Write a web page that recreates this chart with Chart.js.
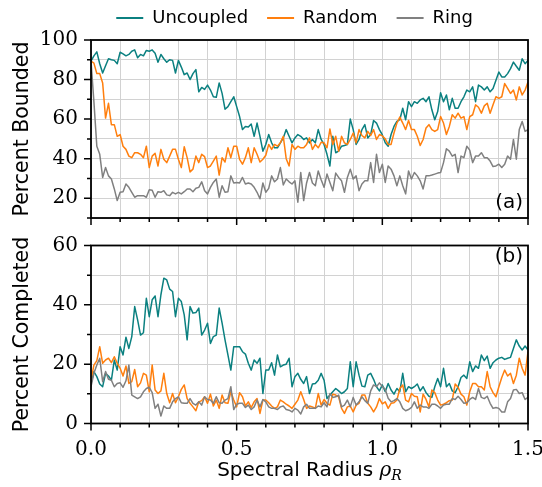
<!DOCTYPE html>
<html><head><meta charset="utf-8">
<script src="https://cdn.jsdelivr.net/npm/chart.js@4.4.1/dist/chart.umd.min.js"></script>
<style>
html,body{margin:0;padding:0;background:#fff;}
#wrap{position:relative;width:542px;height:487px;overflow:hidden;}
#c1{position:absolute;left:0;top:0;}
#c2{position:absolute;left:0;top:232px;}
</style></head><body>
<div id="wrap"><canvas id="c1" width="542" height="232"></canvas><canvas id="c2" width="542" height="255"></canvas></div>
<script>
// Spectral radius samples (x categories)
const rho = [0,0.01,0.02,0.03,0.04,0.05,0.06,0.07,0.08,0.09,
0.1,0.11,0.12,0.13,0.14,0.15,0.16,0.17,0.18,0.19,
0.2,0.21,0.22,0.23,0.24,0.25,0.26,0.27,0.28,0.29,
0.3,0.31,0.32,0.33,0.34,0.35,0.36,0.37,0.38,0.39,
0.4,0.41,0.42,0.43,0.44,0.45,0.46,0.47,0.48,0.49,
0.5,0.51,0.52,0.53,0.54,0.55,0.56,0.57,0.58,0.59,
0.6,0.61,0.62,0.63,0.64,0.65,0.66,0.67,0.68,0.69,
0.7,0.71,0.72,0.73,0.74,0.75,0.76,0.77,0.78,0.79,
0.8,0.81,0.82,0.83,0.84,0.85,0.86,0.87,0.88,0.89,
0.9,0.91,0.92,0.93,0.94,0.95,0.96,0.97,0.98,0.99,
1,1.01,1.02,1.03,1.04,1.05,1.06,1.07,1.08,1.09,
1.1,1.11,1.12,1.13,1.14,1.15,1.16,1.17,1.18,1.19,
1.2,1.21,1.22,1.23,1.24,1.25,1.26,1.27,1.28,1.29,
1.3,1.31,1.32,1.33,1.34,1.35,1.36,1.37,1.38,1.39,
1.4,1.41,1.42,1.43,1.44,1.45,1.46,1.47,1.48,1.49,
1.5];

const seriesNames = ['Uncoupled', 'Random', 'Ring'];

// (a) Percent Bounded
const boundedUncoupled = [89.3,92,94,88,83.3,87,90.5,90,89.7,88,
93.8,93,92,92.7,94.3,95,91,92.7,92,94.7,
94.3,95,93.3,88.8,92.7,90.5,88.8,90,89.7,83.3,
89.7,86.3,82.5,83.3,80,83,85,73.8,76,75,
77.2,74.7,71.3,71,78.3,73,65,66.3,68.8,71.3,
66.3,61.3,54.7,56.3,56,57.5,51.3,58,51.3,43.8,
47.2,52.2,48,45.5,45.5,48,50.5,54.7,51.3,48,
50.5,52.2,51.3,49.7,50.5,48,49.7,48,54.7,49.7,
47.2,42.2,36.3,51.3,43,43.8,46.3,46.7,47.2,60,
54.7,47.2,49.7,54.7,57.2,50.5,52.2,59.3,58,54.7,
52,48,46.3,52.2,56.3,58.8,59.7,65.5,59.7,68.8,
66.3,68.8,68,69.7,70.5,68.8,71.3,64.7,59.7,63.8,
73.3,68.8,72.2,64.7,70.5,65.5,65.5,68.8,71.3,74.7,
73.8,76.3,68.8,77.2,76.3,74.7,76.3,73.8,75.5,79.7,
83.8,81.3,81.3,83,85.5,88.8,86.7,84.7,90.5,88,
89.7];

const boundedRandom = [89.3,88.3,83,83,78.3,60.5,68,57.2,57.2,51.3,
52.2,46.3,44.7,41.3,40.5,43,43,42.2,40.5,46.3,
35.5,41.3,42.7,36.3,44.7,39.7,38,41.3,44.7,44.7,
39.7,35.5,46,40.5,33.3,34.7,41.3,38,42.2,41,
35.5,36.3,38.8,41.3,31.7,40.5,38.3,45.5,40.5,46.3,
46.3,39.7,37.2,40.5,45.5,38,45.5,42.2,38.3,39.7,
41.7,47.2,44.7,47.2,46.3,48,51.3,40,36.3,47.2,
44.7,46.3,45.5,45.5,47.2,50.5,44.7,47.2,45.5,48.3,
48,45.5,55,47.2,51.3,43.8,51.3,48,47.2,49.7,
53,48,54.7,51.7,50.5,53.8,51.7,54.7,49.7,52.2,
51.5,50,47.2,47.2,53,58,61,58,54.7,59.3,
54.7,54.7,51.3,46.7,49.7,55.5,57.2,54.7,53.8,54.7,
61.3,58,52.2,56.3,62.2,60.5,63,60.5,61.3,54.7,
61.3,62.2,67.2,66,63,66.7,68,63,67.2,71.3,
70.5,71.3,78,75.5,73,74.7,69.7,76.3,72.2,74.7,
78.8];

const boundedRing = [89.3,68.8,46.3,42.2,30.5,35.5,31.3,29.7,24.7,18.8,
23,23.3,27.2,25.5,23,20.5,21.3,21.3,21.3,20.5,
24.3,24,20.5,23.3,23,23.8,21.7,21.3,23,22.2,
23,22.2,23.3,24.7,24.7,23.3,25,25.5,28.3,23.8,
22.2,25.5,28,29.7,20.5,26.3,23,23.3,31.3,27.7,
28,27.7,30.5,27.2,27.7,27.2,25.5,23,19.7,27.7,
23,25,31.3,28.3,29.7,35.5,26.7,29.7,28.3,27.2,
28.8,18,33,18.8,27.7,33,27.7,26.3,33.8,29.3,
25.5,32.2,28,23.8,32.7,30.5,28.8,23,30.5,34.7,
29.7,31.3,23.8,27.2,28.8,28.8,38,28,42.2,33,
37.2,28,36.3,34.7,31.3,26.3,31.3,26.3,22.2,33.8,
29.7,33,31.3,28.8,24.7,31.3,31.3,31.7,32.2,32.7,
33,38,45,43.8,41.3,42.2,33,41.3,40.5,46.3,
44.3,38,41.3,41.3,43,40.5,40.5,38.8,36,36.3,
37.2,35.5,37.2,41.3,39.7,49.7,39.7,54.7,58.8,53.8,
54.7];

// (b) Percent Completed
const completedUncoupled = [13.5,17.5,15.8,13.3,12.4,16.9,16,14.6,21.4,18,
25.9,23.1,29.1,25.3,29.3,39.4,34.9,29.8,30.6,42.2,
36,41.7,43,36,43.4,49,48.4,45.3,44.5,36,
42.2,41.1,36.6,28.2,39.4,37.2,37.4,38.9,29.8,31.5,
33.8,27,29.3,29.8,38.9,33.8,28.2,23.1,18,25.9,
25.9,25.9,24.2,23.4,20.3,18,21.4,20.3,22,10.1,
18,18,20.5,16.3,23.1,19.1,19.7,20,22,12.4,
15.8,16.9,14.9,13.5,15.8,10.1,13.3,13.5,14.6,16.9,
14.6,8.4,9.6,10.7,11.8,11,10.1,10.7,11.8,20.8,
12.4,20.8,16.3,12.6,12.4,16.3,16.9,14.9,12.4,11,
13,10.7,13.5,11.3,9.9,11.8,10.7,16.9,10.7,12.4,
11.8,12.4,13.3,11,12.4,10.4,9.2,8.8,12.4,15.2,
12.4,18.6,12.4,13.5,11,10.4,12.4,15.5,16.3,15.2,
20.8,17.5,19.4,18.6,23.1,21.2,22.7,18.6,20.5,21.4,
22,22.3,21.6,22,22.3,25.3,28.2,26.1,24.8,26.1,
24.8];

const completedRandom = [14.6,19.7,21.2,25.9,20.3,21.4,22,20.5,22.5,20.3,
18.6,16,19.4,13.5,14.1,18.2,12.4,13.7,16.9,16.3,
10.7,19.7,11.3,10.1,11,16.9,10.1,7,10.1,7,
9,11.5,13,8.4,6.8,5.6,4.3,7.3,7.7,9,
6.8,9.9,5.9,7.9,5.1,9.6,7,6.8,10.7,7.9,
5.6,10.4,9,5.9,7.3,5.4,7.3,8.4,3.4,7.9,
7.9,7,5.9,5.1,5.6,7.9,7.3,6.5,5.9,5.1,
6.5,7.9,10.7,8.1,5.1,5.9,5.6,5.1,10.1,6.2,
8.1,6.8,6.2,9.9,9.6,9,5.1,3.4,5.6,5.9,
3.9,6.2,6.8,9.6,9.6,6.8,5.6,3.9,5.6,8.4,
6.6,7.3,5.1,6.8,7,7.9,11.8,13,7.9,7.3,
10.1,9.2,9,3.9,9.9,8.1,5.6,11.3,10.4,7.9,
6.2,6.5,7,7.7,7.9,13.3,12.2,9.9,9,6.2,
10.7,13.5,13.5,12.4,12.4,11.3,17.5,12.4,10.4,9,
12.4,15.5,18,16,16.9,13.5,16.3,22,18.6,16.3,
24.2];

const completedRing = [12.4,16.9,19.7,22,14.1,17.5,14.9,14.6,12.4,13.5,
13.7,12.2,14.4,19.7,9.6,9,8.4,9,10.7,11.8,
12.2,10.4,5.1,6.5,2.5,5.9,5.1,5.1,7.3,8.4,
9,7,6.8,6.8,8.4,6.8,6.2,7.3,6.2,9,
8.1,7.9,6.8,9,7,6.8,7.9,8.4,12.4,4.7,
6.5,6.8,6.8,5.4,6.2,4.7,5.6,7.9,5.6,8.1,
7.3,5.6,5.1,5.1,4.7,5.6,5.9,4.7,4.5,3.9,
5.1,4.5,3.2,5.6,6.5,5.1,5.1,5.1,5.9,5.6,
7,5.6,10.1,8.8,9,9.6,5.6,6.2,7.9,5.6,
8.8,6.2,7.3,9,7.7,6.8,11,13,12.4,13.7,
12.5,11.5,8.5,7.3,7.7,8.4,7.3,5.1,4.3,4.7,
5.4,7.3,5.1,6.2,5.6,5.6,5.1,6.5,6.5,5.9,
5.1,6.2,6.5,6.5,8.4,8.1,9.2,8.1,6.8,7,
8.1,8.8,8.1,11.8,8.8,8.4,9.2,6.8,5.1,5.4,
5.1,3.9,3.9,7.3,8.4,11.3,11.5,10.1,10.4,8.1,
8.8];

const xTickLabels = ['0.0', '0.5', '1.0', '1.5'];
const boundedTickLabels = [20, 40, 60, 80, 100];
const completedTickLabels = [0, 20, 40, 60];

// ---------- styling ----------
const COLORS = ['#0b8080', '#ff7f0e', '#808080'];
const ORDERS = [2, 1, 0];
const SANS = "'DejaVu Sans', sans-serif";
const SERIF = "'DejaVu Serif', serif";
const GRID = '#d2d2d2';

function makeDatasets(arrs) {
  return arrs.map((arr, k) => ({
    label: seriesNames[k],
    data: rho.map((x, i) => ({x: x, y: arr[i]})),
    borderColor: COLORS[k],
    backgroundColor: COLORS[k],
    borderWidth: 1.5,
    borderJoinStyle: 'round',
    pointRadius: 0,
    pointHoverRadius: 0,
    tension: 0,
    fill: false,
    order: ORDERS[k]
  }));
}

const isMajorX = v => Math.round(v * 10) % 5 === 0;

const framePlugin = {
  id: 'frame',
  afterDraw(chart, args, opts) {
    const {ctx, chartArea: a, scales} = chart;
    ctx.save();
    ctx.strokeStyle = '#000';
    ctx.lineWidth = 1.5;
    ctx.beginPath();
    scales.x.ticks.forEach(t => {
      const p = scales.x.getPixelForValue(t.value);
      const L = isMajorX(t.value) ? 7 : 4;
      ctx.moveTo(p, a.bottom); ctx.lineTo(p, a.bottom + L);
    });
    scales.y.ticks.forEach(t => {
      const p = scales.y.getPixelForValue(t.value);
      const L = opts.yMajor.includes(Math.round(t.value)) ? 7 : 4;
      ctx.moveTo(a.left, p); ctx.lineTo(a.left - L, p);
    });
    ctx.stroke();
    ctx.lineWidth = 1.8;
    ctx.strokeRect(a.left, a.top, a.right - a.left, a.bottom - a.top);
    ctx.restore();
  }
};

const panelLabelPlugin = {
  id: 'panelLabel',
  afterDraw(chart, args, opts) {
    const {ctx, chartArea: a} = chart;
    ctx.save();
    ctx.font = '20px ' + SANS;
    ctx.fillStyle = '#000';
    ctx.textAlign = 'right';
    ctx.textBaseline = 'middle';
    const y = opts.corner === 'bottom' ? a.bottom - 15 : a.top + 11;
    ctx.fillText(opts.text, a.right - 5, y);
    ctx.restore();
  }
};

const xTitlePlugin = {
  id: 'xTitle',
  afterDraw(chart, args, opts) {
    const {ctx, chartArea: a} = chart;
    ctx.save();
    ctx.fillStyle = '#000';
    ctx.textBaseline = 'alphabetic';
    ctx.textAlign = 'left';
    const f1 = '20px ' + SANS, f2 = 'italic 20px ' + SERIF, f3 = 'italic 14px ' + SERIF;
    ctx.font = f1; const w1 = ctx.measureText(opts.text).width;
    ctx.font = f2; const w2 = ctx.measureText(opts.symbol).width;
    ctx.font = f3; const w3 = ctx.measureText(opts.sub).width;
    let x = (a.left + a.right) / 2 - (w1 + w2 + w3) / 2;
    const y = opts.y;
    ctx.font = f1; ctx.fillText(opts.text, x, y); x += w1;
    ctx.font = f2; ctx.fillText(opts.symbol, x, y); x += w2;
    ctx.font = f3; ctx.fillText(opts.sub, x, y + 4);
    ctx.restore();
  }
};

const legendShiftPlugin = {
  id: 'legendShift',
  afterLayout(chart, args, opts) {
    const L = chart.legend;
    if (!L) return;
    L.left += opts.dx; L.right += opts.dx;
    L.top += opts.dy; L.bottom += opts.dy;
  }
};

function xScale(showLabels, height, tickLen) {
  return {
    type: 'linear', min: 0, max: 1.5,
    border: {display: false},
    grid: {color: GRID, lineWidth: 1, drawTicks: showLabels, tickLength: tickLen, tickColor: 'rgba(0,0,0,0)'},
    ticks: {
      display: showLabels, stepSize: 0.1, autoSkip: false, maxRotation: 0, minRotation: 0, padding: 0,
      color: '#000', font: {family: SERIF, size: 20},
      callback: v => isMajorX(v) ? xTickLabels[Math.round(v * 2)] : ''
    },
    afterFit(s) { s.height = height; s.paddingLeft = 0; s.paddingRight = 0; }
  };
}

function yScale(min, max, labels, title) {
  return {
    type: 'linear', min: min, max: max,
    border: {display: false},
    grid: {color: GRID, lineWidth: 1, drawTicks: true, tickLength: 13, tickColor: 'rgba(0,0,0,0)'},
    ticks: {
      stepSize: 10, autoSkip: false, padding: 0, color: '#000', font: {family: SERIF, size: 20},
      callback: v => labels.includes(Math.round(v)) ? String(Math.round(v)) : ''
    },
    title: {display: true, text: title, color: '#000', font: {family: SANS, size: 20.5}, padding: {top: 10, bottom: 0}},
    afterFit(s) { s.width = 91; s.paddingTop = 0; s.paddingBottom = 0; }
  };
}

const common = {
  responsive: false, animation: false, devicePixelRatio: 1,
  events: []
};

new Chart(document.getElementById('c1'), {
  type: 'line',
  data: {datasets: makeDatasets([boundedUncoupled, boundedRandom, boundedRing])},
  options: Object.assign({}, common, {
    layout: {padding: {top: -7, right: 14, left: 0, bottom: 0}},
    scales: {x: xScale(false, 14, 0), y: yScale(10, 100, boundedTickLabels, 'Percent Bounded')},
    plugins: {
      legend: {
        display: true, position: 'top', align: 'center',
        labels: {
          color: '#000', font: {family: SANS, size: 18}, boxWidth: 27, boxHeight: 2, padding: 19,
          generateLabels(chart) {
            return chart.data.datasets.map((d, i) => ({
              text: d.label, fillStyle: d.borderColor, strokeStyle: d.borderColor,
              lineWidth: 0, hidden: false, datasetIndex: i, fontColor: '#000'
            }));
          }
        }
      },
      tooltip: {enabled: false},
      frame: {yMajor: boundedTickLabels},
      panelLabel: {text: '(a)', corner: 'bottom'},
      legendShift: {dx: 30.6, dy: -3}
    }
  }),
  plugins: [framePlugin, panelLabelPlugin, legendShiftPlugin]
});

new Chart(document.getElementById('c2'), {
  type: 'line',
  data: {datasets: makeDatasets([completedUncoupled, completedRandom, completedRing])},
  options: Object.assign({}, common, {
    layout: {padding: {top: 13.5, right: 14, left: 0, bottom: 0}},
    scales: {x: xScale(true, 63.5, 14.5), y: yScale(0, 60, completedTickLabels, 'Percent Completed')},
    plugins: {
      legend: {display: false},
      tooltip: {enabled: false},
      frame: {yMajor: completedTickLabels},
      panelLabel: {text: '(b)', corner: 'top'},
      xTitle: {text: 'Spectral Radius ', symbol: 'ρ', sub: 'R', y: 244}
    }
  }),
  plugins: [framePlugin, panelLabelPlugin, xTitlePlugin]
});
</script>
</body></html>
